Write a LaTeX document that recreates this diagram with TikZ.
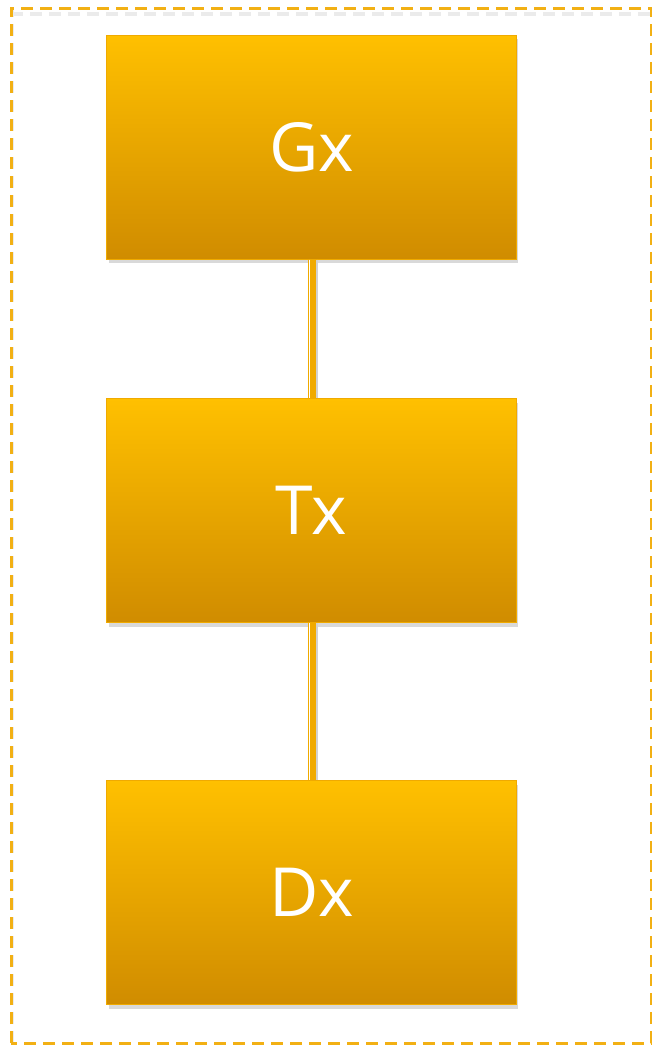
\documentclass[tikz,border=0pt]{standalone}
\usepackage{fontspec}
\setmainfont{Open Sans}
\usetikzlibrary{shadows}
\definecolor{gtTop}{RGB}{255,192,0}
\definecolor{gtBot}{RGB}{208,140,0}
\definecolor{gtEdge}{RGB}{240,170,0}
\definecolor{gtDash}{RGB}{242,176,20}

\tikzset{
  stage/.style={draw=gtEdge, line width=1bp, top color=gtTop, bottom color=gtBot,
    minimum width=409bp, minimum height=224bp, inner sep=0pt,
    text=white, font=\fontsize{68}{68}\selectfont,
    drop shadow={opacity=0.3, shadow xshift=2bp, shadow yshift=-4bp}},
  link/.style={gtEdge, line width=8bp}
}

\begin{document}
\begin{tikzpicture}[x=1bp, y=-1bp]
  \useasboundingbox (0,0) rectangle (652,1047);

  % Dashed frame
  \draw[black!8, line width=4bp, dash pattern=on 12bp off 7bp] (11,14) -- (651,14);
  \draw[black!8, line width=4bp, dash pattern=on 12bp off 7bp] (12,1043) -- (12,8);
  \draw[gtDash, line width=3bp, dash pattern=on 12bp off 7bp] (11,1043) -- (11,8) -- (651,8) -- (651,1043) -- cycle;

  % Stages
  \node[stage] (gx) at (311.5,147) {Gx};
  \node[stage] (tx) at (311.5,510.5) {Tx};
  \node[stage] (dx) at (311.5,892.5) {Dx};

  % Links
  \draw[black!18, line width=8bp] ([xshift=2bp]gx.south) -- ([xshift=2bp]tx.north);
  \draw[black!18, line width=8bp] ([xshift=2bp]tx.south) -- ([xshift=2bp]dx.north);
  \draw[link] (gx) -- (tx);
  \draw[link] (tx) -- (dx);
  \draw[white, line width=1bp] ([xshift=-2bp]gx.south) -- ([xshift=-2bp]tx.north);
  \draw[white, line width=1bp] ([xshift=-2bp]tx.south) -- ([xshift=-2bp]dx.north);
\end{tikzpicture}
\end{document}
